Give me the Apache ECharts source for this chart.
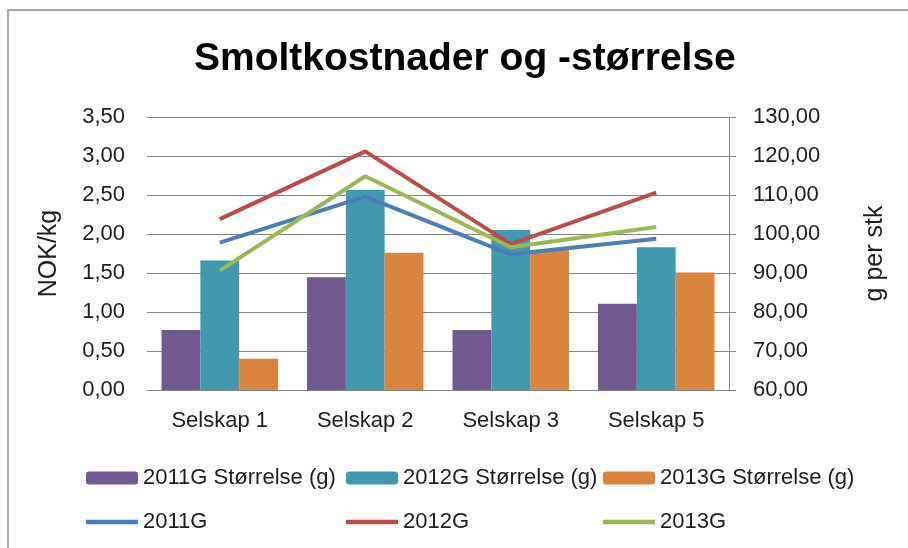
<!DOCTYPE html>
<html>
<head>
<meta charset="utf-8">
<script src="https://cdn.jsdelivr.net/npm/echarts@6/dist/echarts.min.js"></script>
<style>
  html, body { margin: 0; padding: 0; background: #fff; }
  #chart { width: 908px; height: 548px; }
</style>
</head>
<body>
<div id="chart"></div>
<script>
// categories and values
var categories = ['Selskap 1', 'Selskap 2', 'Selskap 3', 'Selskap 5']
var size2011 = [75.4, 88.9, 75.4, 82.1]
var size2012 = [93.2, 111.3, 101.0, 96.6]
var size2013 = [68.0, 95.2, 95.9, 90.1]
var cost2011 = [1.89, 2.48, 1.74, 1.94]
var cost2012 = [2.19, 3.06, 1.87, 2.53]
var cost2013 = [1.53, 2.74, 1.83, 2.09]

var font = 'Liberation Sans'
var gridColor = '#878787'
var textColor = '#1e1e1e'
var lineIcon = 'path://M0,0 L55,0 L55,5 L0,5 Z'
var comma = function (v) { return v.toFixed(2).replace('.', ',') }

var chart = echarts.init(document.getElementById('chart'))

var legendBase = {
  orient: 'vertical',
  top: 462,
  itemGap: 22,
  itemWidth: 52,
  itemHeight: 13,
  textStyle: { fontFamily: font, fontSize: 22, color: textColor }
}

var option = {
  backgroundColor: '#fff',
  animation: false,
  title: {
    text: 'Smoltkostnader og -størrelse',
    left: 189,
    top: 35,
    textStyle: { fontFamily: font, fontSize: 39, fontWeight: 'bold', color: '#000' }
  },
  graphic: [{
    type: 'polyline',
    shape: { points: [[8, 560], [8, 10], [920, 10]] },
    style: { stroke: '#8c8c8c', lineWidth: 1.5, fill: null }
  }],
  legend: [
    Object.assign({ left: 81, data: ['2011G Størrelse (g)', { name: '2011G', icon: lineIcon }] }, legendBase),
    Object.assign({ left: 341, data: ['2012G Størrelse (g)', { name: '2012G', icon: lineIcon }] }, legendBase),
    Object.assign({ left: 598, data: ['2013G Størrelse (g)', { name: '2013G', icon: lineIcon }] }, legendBase)
  ],
  grid: { left: 147, right: 179, top: 117, bottom: 158 },
  xAxis: {
    type: 'category',
    data: categories,
    axisLine: { lineStyle: { color: gridColor } },
    axisTick: { show: false },
    axisLabel: { margin: 20, fontFamily: font, fontSize: 22, color: textColor }
  },
  yAxis: [{
    type: 'value',
    min: 0,
    max: 3.5,
    interval: 0.5,
    name: 'NOK/kg',
    nameLocation: 'middle',
    nameRotate: 90,
    nameGap: 85,
    nameTextStyle: { fontFamily: font, fontSize: 25, color: textColor },
    axisLine: { show: false },
    axisTick: { show: false },
    axisLabel: { margin: 22, formatter: comma, fontFamily: font, fontSize: 22, color: textColor },
    splitLine: { lineStyle: { color: gridColor, width: 1 } }
  }, {
    type: 'value',
    min: 60,
    max: 130,
    interval: 10,
    position: 'right',
    name: 'g per stk',
    nameLocation: 'middle',
    nameRotate: 90,
    nameGap: 134,
    nameTextStyle: { fontFamily: font, fontSize: 25, color: textColor },
    axisLine: { show: true, lineStyle: { color: gridColor } },
    axisTick: { show: true, inside: false, length: 7, lineStyle: { color: gridColor } },
    axisLabel: { margin: 24, formatter: comma, fontFamily: font, fontSize: 22, color: textColor },
    splitLine: { show: false }
  }],
  series: [
    { name: '2011G Størrelse (g)', type: 'bar', yAxisIndex: 1, data: size2011,
      barGap: '0%', barCategoryGap: '20%', itemStyle: { color: '#71588F' } },
    { name: '2012G Størrelse (g)', type: 'bar', yAxisIndex: 1, data: size2012,
      itemStyle: { color: '#4198AF' } },
    { name: '2013G Størrelse (g)', type: 'bar', yAxisIndex: 1, data: size2013,
      itemStyle: { color: '#DB843D' } },
    { name: '2011G', type: 'line', data: cost2011, symbol: 'none',
      itemStyle: { color: '#4A7EBB' }, lineStyle: { width: 4, color: '#4A7EBB' } },
    { name: '2012G', type: 'line', data: cost2012, symbol: 'none',
      itemStyle: { color: '#BE4B48' }, lineStyle: { width: 4, color: '#BE4B48' } },
    { name: '2013G', type: 'line', data: cost2013, symbol: 'none',
      itemStyle: { color: '#98B954' }, lineStyle: { width: 4, color: '#98B954' } }
  ]
}

chart.setOption(option)
</script>
</body>
</html>
